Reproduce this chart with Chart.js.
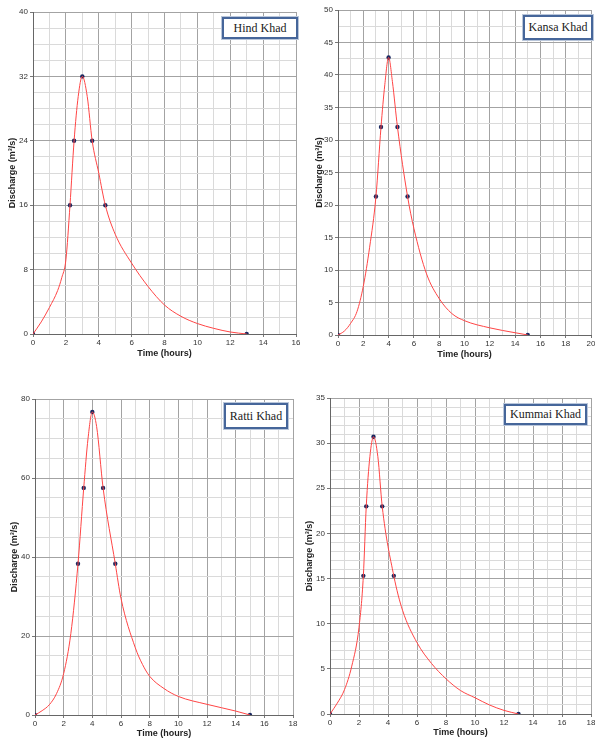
<!DOCTYPE html>
<html>
<head>
<meta charset="UTF-8">
<script src="https://cdn.jsdelivr.net/npm/chart.js"></script>
<style>
  body { margin: 0; background: #fff; }
  #page { position: relative; width: 595px; height: 740px; overflow: hidden; }
  canvas { position: absolute; }
  .tag {
    position: absolute;
    box-sizing: border-box;
    background: #fff;
    border: 2px solid #46669a;
    outline: 1px solid #b9c6da;
    font-family: 'Liberation Serif', 'Times New Roman', serif;
    font-size: 12px;
    color: #222;
    display: flex;
    align-items: center;
    justify-content: center;
    white-space: nowrap;
  }
</style>
</head>
<body>
<div id="page">
  <canvas id="hind" width="300" height="360" style="left:0;top:0"></canvas>
  <canvas id="kansa" width="300" height="360" style="left:295px;top:0"></canvas>
  <canvas id="ratti" width="300" height="355" style="left:0;top:385px"></canvas>
  <canvas id="kummai" width="300" height="355" style="left:295px;top:385px"></canvas>
  <div class="tag" style="left:222px;top:17px;width:76px;height:22px">Hind Khad</div>
  <div class="tag" style="left:523px;top:15px;width:70px;height:25px">Kansa Khad</div>
  <div class="tag" style="left:224px;top:403px;width:64px;height:26px">Ratti Khad</div>
  <div class="tag" style="left:504px;top:404px;width:83px;height:21px">Kummai Khad</div>
</div>
<script>
// points marqués (temps en heures, débit en m3/s)
const hindT = [0, 2.25, 2.5, 3, 3.6, 4.4, 13];
const hindQ = [0, 16, 24, 32, 24, 16, 0];
const hindCurveT = [0, 0.5, 1, 1.5, 1.75, 2, 2.25, 2.5, 2.75, 3, 3.3, 3.6, 4, 4.4, 5, 6, 7, 8, 9, 10, 11, 12, 13];
const hindCurveQ = [0, 1.5, 3.3, 5.4, 7, 9.2, 16, 24, 29.5, 32, 29.5, 24, 20, 16, 12.4, 8.8, 5.9, 3.6, 2.2, 1.3, 0.7, 0.25, 0];

const kansaT = [0, 3, 3.4, 4, 4.7, 5.5, 15];
const kansaQ = [0, 21.3, 32, 42.7, 32, 21.3, 0];
const kansaCurveT = [0, 0.5, 1, 1.5, 2, 2.5, 3, 3.4, 3.7, 4, 4.3, 4.7, 5.5, 6, 7, 8, 9, 10, 12, 14, 15];
const kansaCurveQ = [0, 0.6, 1.8, 3.6, 7.5, 13.5, 21.3, 32, 38.5, 42.7, 39, 32, 21.3, 16.4, 9.4, 5.6, 3.3, 2.2, 1.1, 0.35, 0];

const rattiT = [0, 3, 3.4, 4, 4.75, 5.6, 15];
const rattiQ = [0, 38.3, 57.5, 76.7, 57.5, 38.3, 0];
const rattiCurveT = [0, 0.5, 1, 1.5, 2, 2.5, 3, 3.4, 3.7, 4, 4.3, 4.75, 5.6, 6, 7, 7.5, 8, 9, 10, 12, 14, 15];
const rattiCurveQ = [0, 1.1, 2.6, 5.4, 10.5, 20.6, 38.3, 57.5, 70, 76.7, 73, 57.5, 38.3, 29.5, 17, 12.8, 9.8, 6.7, 4.7, 2.7, 1.0, 0];

const kummaiT = [0, 2.3, 2.5, 3, 3.6, 4.4, 13];
const kummaiQ = [0, 15.3, 23, 30.7, 23, 15.3, 0];
const kummaiCurveT = [0, 0.5, 1, 1.5, 2, 2.3, 2.5, 2.75, 3, 3.3, 3.6, 4.4, 5, 6, 7, 8, 9, 10, 11, 12, 13];
const kummaiCurveQ = [0, 1.2, 2.7, 5.3, 9.6, 15.3, 23, 28.5, 30.7, 28.5, 23, 15.3, 11.5, 7.9, 5.6, 3.9, 2.6, 1.8, 1.0, 0.4, 0];

// axes : [max, pas mineur, pas majeur]
const hindX = [16, 1, 2], hindY = [40, 2, 8];
const kansaX = [20, 1, 2], kansaY = [50, 2.5, 5];
const rattiX = [18, 1, 2], rattiY = [80, 5, 20];
const kummaiX = [18, 1, 2], kummaiY = [35, 1, 5];

const MAJOR = '#a3a3a3';
const MINOR = '#dadada';

function isMajor(v, step) {
  const r = v / step;
  return Math.abs(r - Math.round(r)) < 1e-6;
}

function pairs(xs, ys) {
  return xs.map((x, i) => ({ x: x, y: ys[i] }));
}

function makeChart(id, t, q, ct, cq, xa, ya, lay) {
  const tickFont = { family: "'Liberation Sans', Arial, sans-serif", size: 8 };
  const titleFont = { family: "'Liberation Sans', Arial, sans-serif", size: 9, weight: 'bold' };
  new Chart(document.getElementById(id), {
    type: 'scatter',
    data: {
      datasets: [
        {
          data: pairs(ct, cq),
          showLine: true,
          borderColor: '#ff4545',
          borderWidth: 1,
          pointRadius: 0,
          cubicInterpolationMode: 'monotone',
        },
        {
          data: pairs(t, q),
          showLine: false,
          pointRadius: 2.2,
          pointBackgroundColor: '#1a2860',
          pointBorderColor: '#1a2860',
          pointBorderWidth: 0,
        },
      ],
    },
    options: {
      responsive: false,
      animation: false,
      events: [],
      layout: { padding: { left: 0, top: lay.top, right: lay.right, bottom: 0 } },
      plugins: { legend: { display: false }, tooltip: { enabled: false } },
      scales: {
        x: {
          type: 'linear',
          min: 0,
          max: xa[0],
          afterFit: (s) => {
            s.height = lay.xh;
            s.paddingRight = 0;
            s.paddingLeft = 0;
          },
          ticks: {
            stepSize: xa[1],
            autoSkip: false,
            maxRotation: 0,
            padding: 1,
            color: '#333',
            font: tickFont,
            callback: (v) => (isMajor(v, xa[2]) ? v : ''),
          },
          grid: {
            color: (c) => (isMajor(c.tick.value, xa[2]) ? MAJOR : MINOR),
            tickColor: (c) => (isMajor(c.tick.value, xa[2]) ? '#777' : 'rgba(0,0,0,0)'),
            tickLength: 3,
            lineWidth: 1,
          },
          border: { color: '#666', width: 1 },
          title: {
            display: true,
            text: 'Time (hours)',
            color: '#222',
            font: titleFont,
            padding: { top: 0, bottom: lay.xpad },
          },
        },
        y: {
          min: 0,
          max: ya[0],
          afterFit: (s) => {
            s.width = lay.yw;
            s.paddingTop = 0;
            s.paddingBottom = 0;
          },
          ticks: {
            stepSize: ya[1],
            autoSkip: false,
            padding: 2,
            color: '#333',
            font: tickFont,
            callback: (v) => (isMajor(v, ya[2]) ? v : ''),
          },
          grid: {
            color: (c) => (isMajor(c.tick.value, ya[2]) ? MAJOR : MINOR),
            tickColor: (c) => (isMajor(c.tick.value, ya[2]) ? '#777' : 'rgba(0,0,0,0)'),
            tickLength: 3,
            lineWidth: 1,
          },
          border: { color: '#666', width: 1 },
          title: {
            display: true,
            text: 'Discharge (m³/s)',
            color: '#222',
            font: titleFont,
            padding: { top: lay.ypad, bottom: 0 },
          },
        },
      },
    },
  });
}

makeChart('hind', hindT, hindQ, hindCurveT, hindCurveQ, hindX, hindY,
  { top: 12, right: 1, xh: 26, yw: 33, xpad: 1, ypad: 7 });
makeChart('kansa', kansaT, kansaQ, kansaCurveT, kansaCurveQ, kansaX, kansaY,
  { top: 10, right: 0, xh: 25, yw: 43, xpad: 0, ypad: 19 });
makeChart('ratti', rattiT, rattiQ, rattiCurveT, rattiCurveQ, rattiX, rattiY,
  { top: 14, right: 7, xh: 25, yw: 35, xpad: 1, ypad: 9 });
makeChart('kummai', kummaiT, kummaiQ, kummaiCurveT, kummaiCurveQ, kummaiX, kummaiY,
  { top: 13, right: 4, xh: 26, yw: 35, xpad: 2, ypad: 9 });
</script>
</body>
</html>
